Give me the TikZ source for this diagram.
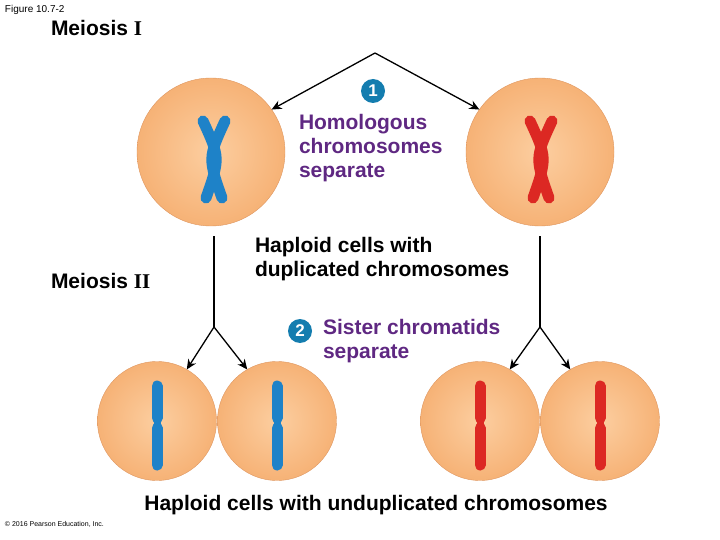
\documentclass[tikz,border=0pt]{standalone}
\usepackage{fontspec}
\setmainfont{Liberation Sans}
\newfontfamily\romnum{Liberation Serif}
\usetikzlibrary{arrows.meta}
\definecolor{cellor}{RGB}{246,178,118}
\definecolor{celllt}{RGB}{252,206,160}
\definecolor{cellrim}{RGB}{222,150,95}
\definecolor{chrblue}{RGB}{30,130,200}
\definecolor{chrred}{RGB}{220,40,35}
\definecolor{txtpurple}{RGB}{95,40,130}
\definecolor{stepblue}{RGB}{20,125,175}
\begin{document}
\begin{tikzpicture}[x=1pt,y=-1pt,inner sep=0pt,outer sep=0pt,
cell/.style={draw=cellrim,circle,minimum size=119pt,inner color=celllt,outer color=cellor},
bigcell/.style={cell,minimum size=148pt},
chrom/.style={line width=11pt,line cap=round},
stepnum/.style={circle,fill=stepblue,text=white,minimum size=24pt,font=\fontsize{17}{17}\selectfont\bfseries},
lab/.style={font=\fontsize{21}{24}\selectfont\bfseries,align=left,anchor=north west},
arr/.style={-{Stealth[length=10pt,width=9pt]},line width=1.3pt}]
\useasboundingbox (0,0) rectangle (720,540);
% cells
\node[bigcell] (tl) at (211,152) {};
\node[bigcell] (tr) at (540,152) {};
\node[cell] (b1) at (157,421) {};
\node[cell] (b2) at (277,421) {};
\node[cell] (b3) at (480,421) {};
\node[cell] (b4) at (600,421) {};
% chromosomes
\foreach \c/\x in {chrblue/214,chrred/541} {
  \draw[chrom,\c] (\x-11,121) .. controls (\x+6,158) .. (\x-8,198);
  \draw[chrom,\c] (\x+11,121) .. controls (\x-6,158) .. (\x+8,198);
}
\foreach \c/\x in {chrblue/157,chrblue/277,chrred/480,chrred/600} {
  \draw[chrom,\c] (\x,386) -- (\x,418);
  \draw[chrom,\c] (\x,428) -- (\x,465);
  \draw[line width=7pt,\c] (\x,416) -- (\x,430);
}
% connectors
\coordinate (apex) at (375,53);
\coordinate (jl) at (214,327);
\coordinate (jr) at (540,327);
\draw[arr] (apex) -- (tl.35);
\draw[arr] (apex) -- (tr.145);
\draw[line width=1.3pt] (tl.south -| jl) ++(0,10) -- (jl);
\draw[line width=1.3pt] (tr.south -| jr) ++(0,10) -- (jr);
\draw[arr] (jl) -- (b1.60);
\draw[arr] (jl) -- (b2.120);
\draw[arr] (jr) -- (b3.60);
\draw[arr] (jr) -- (b4.120);
% labels
\node[stepnum] (s1) at (373,91) {1};
\node[stepnum] (s2) at (300,331) {2};
\node[lab,text=txtpurple] (hom) at (299,114) {Homologous\\chromosomes\\separate};
\node[lab,text=txtpurple] (sis) at (323,319) {Sister chromatids\\separate};
\node[lab] (dup) at (255,237) {Haploid cells with\\duplicated chromosomes};
\node[font=\fontsize{21}{24}\selectfont\bfseries] (undup) at (376,505) {Haploid cells with unduplicated chromosomes};
\node[lab] (m1) at (51,20) {Meiosis {\romnum I}};
\node[lab] (m2) at (51,273) {Meiosis {\romnum II}};
\node[anchor=west,font=\fontsize{10}{12}\selectfont] (fig) at (5,10) {Figure 10.7-2};
\node[anchor=west,font=\fontsize{7}{9}\selectfont] (copy) at (5,524) {© 2016 Pearson Education, Inc.};
\end{tikzpicture}
\end{document}
